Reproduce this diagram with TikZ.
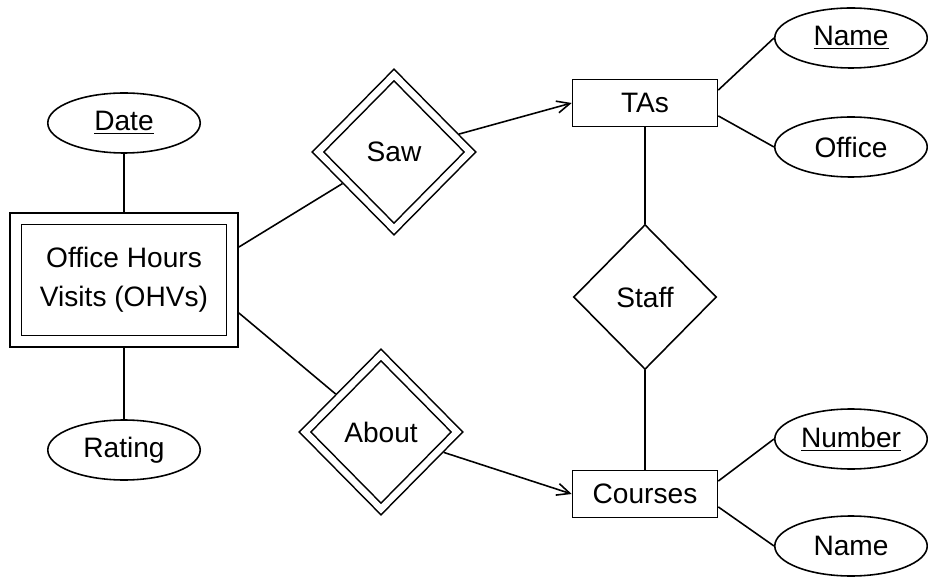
\documentclass[tikz,border=0pt]{standalone}
\usepackage{fontspec}
\setsansfont{Liberation Sans}
\usepackage{tikz}
\usetikzlibrary{arrows.meta,positioning,shapes.geometric}

\begin{document}
\begin{tikzpicture}[
  x=0.02cm, y=0.02cm,
  line width=0.9pt,
  every node/.style={font=\sffamily\fontsize{16}{22}\selectfont},
  attr/.style={draw,ellipse,minimum width=30.5mm,minimum height=12mm,inner sep=0pt},
  entity/.style={draw,minimum width=29mm,minimum height=9.4mm,inner sep=0pt},
  weakentity/.style={draw,double,double distance=2mm,minimum width=43.3mm,
    minimum height=24.5mm,outer sep=1.32mm,align=center},
  rel/.style={draw,diamond,minimum width=28.6mm,minimum height=29mm,inner sep=0pt},
  weakrel/.style={draw,diamond,double,double distance=1.3mm,minimum width=31.2mm,
    minimum height=31.6mm,inner sep=0pt,outer sep=0.97mm},
  arr/.style={-{Straight Barb[length=2.6mm,width=2.4mm]}}
]
\useasboundingbox (0,0) rectangle (928,578);
% entities
\node[weakentity] (ohv) at (124,298) {Office Hours\\Visits (OHVs)};
\node[entity] (tas) at (645,475) {TAs};
\node[entity] (courses) at (645,84) {Courses};
% relationships
\node[weakrel] (saw) at (394,426) {Saw};
\node[weakrel] (about) at (381,146) {About};
\node[rel] (staff) at (645,281) {Staff};
% attributes
\node[attr] (date) at (124,455) {\underline{Date}};
\node[attr] (rating) at (124,128) {Rating};
\node[attr] (tname) at (851,540) {\underline{Name}};
\node[attr] (office) at (851,431) {Office};
\node[attr] (number) at (851,139) {\underline{Number}};
\node[attr] (cname) at (851,32) {Name};
% connectors
\draw (date) -- (ohv); \draw (ohv) -- (rating);
\draw (ohv.16) -- (saw); \draw (ohv.-16) -- (about);
\draw[arr] (saw) -- (tas.west); \draw[arr] (about) -- (courses.west);
\draw (tas) -- (staff); \draw (staff) -- (courses);
\draw (tas.10) -- (tname.west); \draw (tas.-10) -- (office.west);
\draw (courses.10) -- (number.west); \draw (courses.-10) -- (cname.west);
\end{tikzpicture}
\end{document}
